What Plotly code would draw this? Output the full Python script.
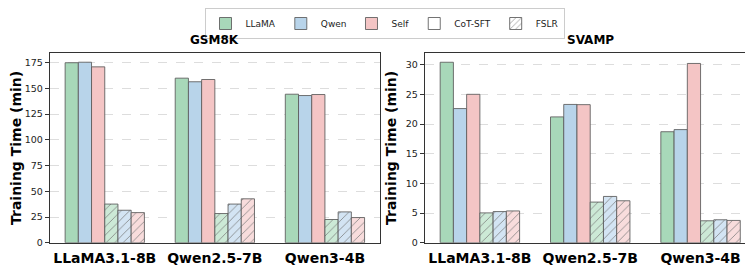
import plotly.graph_objects as go

models = ["LLaMA3.1-8B", "Qwen2.5-7B", "Qwen3-4B"]
sources = ["LLaMA", "Qwen", "Self"]
methods = ["CoT-SFT", "FSLR"]
datasets = ["GSM8K", "SVAMP"]

# GSM8K training time (min)
gsm8k_cot = {"LLaMA": [175.0, 160.0, 144.4], "Qwen": [175.5, 156.5, 143.1], "Self": [171.0, 158.7, 144.1]}
gsm8k_fslr = {"LLaMA": [37.6, 28.4, 22.6], "Qwen": [31.6, 37.6, 30.0], "Self": [29.3, 42.7, 24.5]}
# SVAMP training time (min)
svamp_cot = {"LLaMA": [30.4, 21.2, 18.7], "Qwen": [22.6, 23.3, 19.06], "Self": [25.0, 23.26, 30.2]}
svamp_fslr = {"LLaMA": [5.03, 6.85, 3.7], "Qwen": [5.25, 7.8, 3.87], "Self": [5.36, 7.07, 3.76]}

yticks_gsm = [0, 25, 50, 75, 100, 125, 150, 175]
yticks_svamp = [0, 5, 10, 15, 20, 25, 30]

colors = {"LLaMA": "#a8d8b9", "Qwen": "#b8d4ea", "Self": "#f4c5c5"}
light = {"LLaMA": "#cce9d6", "Qwen": "#d3e4f3", "Self": "#f8dcdc"}
edge = "rgba(90,90,90,0.85)"

fig = go.Figure()
W = 0.12
data = [(gsm8k_cot, gsm8k_fslr, "x", "y"), (svamp_cot, svamp_fslr, "x2", "y2")]
for cot, fslr, xa, ya in data:
    i = 0
    for s in sources:
        fig.add_trace(go.Bar(x=list(range(len(models))), y=cot[s], width=W, offset=-0.36 + i * W,
                             marker=dict(color=colors[s], line=dict(color=edge, width=1)),
                             xaxis=xa, yaxis=ya, showlegend=False))
        i += 1
    for s in sources:
        fig.add_trace(go.Bar(x=list(range(len(models))), y=fslr[s], width=W, offset=-0.36 + i * W,
                             marker=dict(color=light[s], line=dict(color=edge, width=1),
                                         pattern=dict(shape="/", fgcolor="#777777", bgcolor=light[s],
                                                      size=6, solidity=0.12, fillmode="replace")),
                             xaxis=xa, yaxis=ya, showlegend=False))
        i += 1

# legend proxies
for s in sources:
    fig.add_trace(go.Bar(x=[None], y=[None], name=s, marker=dict(color=colors[s], line=dict(color=edge, width=1)),
                         xaxis="x", yaxis="y"))
fig.add_trace(go.Bar(x=[None], y=[None], name=methods[0], marker=dict(color="white", line=dict(color=edge, width=1)),
                     xaxis="x", yaxis="y"))
fig.add_trace(go.Bar(x=[None], y=[None], name=methods[1],
                     marker=dict(color="white", line=dict(color=edge, width=1),
                                 pattern=dict(shape="/", fgcolor="#777777", bgcolor="white", size=5,
                                              solidity=0.15, fillmode="replace")),
                     xaxis="x", yaxis="y"))

font = "DejaVu Sans"
common_x = dict(tickmode="array", tickvals=list(range(len(models))), ticktext=models, range=[-0.5, 2.5],
                showline=True, mirror=True, linecolor="#333333", linewidth=1, ticks="", ticklabelstandoff=2,
                tickfont=dict(family=font, size=14, color="black", weight="bold"), showgrid=False, zeroline=False)
common_y = dict(showline=True, mirror=True, linecolor="#333333", linewidth=1, ticks="outside", ticklen=4,
                tickcolor="#333333", tickfont=dict(family=font, size=9.5, color="#222222"),
                showgrid=True, gridcolor="#dddddd", griddash="dash", gridwidth=1, zeroline=False,
                title=dict(text="Training Time (min)", font=dict(family=font, size=14, color="black", weight="bold"),
                           standoff=5))

fig.update_layout(
    width=753, height=267, margin=dict(l=0, r=0, t=0, b=0),
    paper_bgcolor="white", plot_bgcolor="white", barmode="overlay",
    xaxis=dict(domain=[0.0554, 0.494], anchor="y", **common_x),
    xaxis2=dict(domain=[0.5534, 0.993], anchor="y2", **common_x),
    yaxis=dict(domain=[0.104, 0.828], anchor="x", range=[0, 184.4], tickvals=yticks_gsm, **common_y),
    yaxis2=dict(domain=[0.104, 0.828], anchor="x2", range=[0, 31.95], tickvals=yticks_svamp, **common_y),
    legend=dict(orientation="h", x=0.5, xanchor="center", y=1.0, yanchor="top",
                bordercolor="#cccccc", borderwidth=1, font=dict(family=font, size=9, color="#222222"),
                itemwidth=30, traceorder="normal", tracegroupgap=0),
    annotations=[
        dict(text="<b>GSM8K</b>", x=(0.0554 + 0.494) / 2, y=0.878, xref="paper", yref="paper", showarrow=False,
             font=dict(family=font, size=12, color="black"), xanchor="center", yanchor="middle"),
        dict(text="<b>SVAMP</b>", x=(0.5534 + 0.993) / 2, y=0.878, xref="paper", yref="paper", showarrow=False,
             font=dict(family=font, size=12, color="black"), xanchor="center", yanchor="middle"),
    ],
)

fig.write_html("out.html")
